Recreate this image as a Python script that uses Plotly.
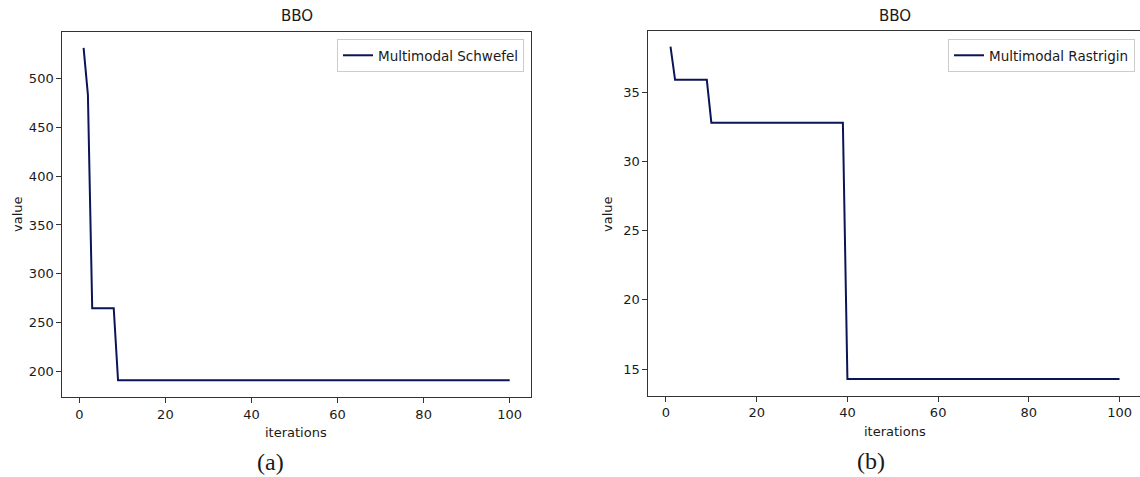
import plotly.graph_objects as go

# ---- data ----
iterations = list(range(1, 101))
schwefel = [531, 483] + [264.8] * 6 + [191.2] * 92
rastrigin = [38.3] + [35.9] * 8 + [32.8] * 30 + [14.28] * 61

x_ticks = [0, 20, 40, 60, 80, 100]
y_ticks_a = [200, 250, 300, 350, 400, 450, 500]
y_ticks_b = [15, 20, 25, 30, 35]

W, H = 1140, 477
LINE = "#0b1556"
FONT = "DejaVu Sans"
TXT = "#1a1a1a"

fig = go.Figure()
fig.add_trace(go.Scatter(x=iterations, y=schwefel, mode="lines",
                         line=dict(color=LINE, width=2),
                         name="Multimodal Schwefel", xaxis="x", yaxis="y",
                         legend="legend"))
fig.add_trace(go.Scatter(x=iterations, y=rastrigin, mode="lines",
                         line=dict(color=LINE, width=2),
                         name="Multimodal Rastrigin", xaxis="x2", yaxis="y2",
                         legend="legend2"))

def px_x(v):
    return v / W

def px_y(v):
    return 1 - v / H

axis_common = dict(showline=True, linecolor="#333333", linewidth=1, mirror=True,
                   ticks="outside", ticklen=5, tickcolor="#333333",
                   showgrid=False, zeroline=False,
                   tickfont=dict(family=FONT, size=13, color=TXT))

fig.update_layout(
    width=W, height=H,
    margin=dict(l=0, r=0, t=0, b=0),
    paper_bgcolor="white", plot_bgcolor="white",
    xaxis=dict(domain=[px_x(62.3), px_x(531)], range=[-3.95, 104.95],
               tickvals=x_ticks, anchor="y", **axis_common),
    yaxis=dict(domain=[px_y(397.3), px_y(31.7)], range=[173.8, 547.6],
               tickvals=y_ticks_a, anchor="x", **axis_common),
    xaxis2=dict(domain=[px_x(648.3), px_x(1139.5)], range=[-3.9, 104.4],
                tickvals=x_ticks, anchor="y2", **axis_common),
    yaxis2=dict(domain=[px_y(395.7), px_y(31)], range=[13.07, 39.43],
                tickvals=y_ticks_b, anchor="x2", **axis_common),
    legend=dict(x=px_x(524), y=px_y(39), xanchor="right", yanchor="top",
                bordercolor="#cccccc", borderwidth=1, bgcolor="white",
                font=dict(family=FONT, size=13.5, color=TXT),
                itemwidth=30, tracegroupgap=0),
    legend2=dict(x=px_x(1135), y=px_y(39), xanchor="right", yanchor="top",
                 bordercolor="#cccccc", borderwidth=1, bgcolor="white",
                 font=dict(family=FONT, size=13.5, color=TXT),
                 itemwidth=30, tracegroupgap=0),
    showlegend=True,
)

def ann(text, x, y, size=13, family=FONT, angle=0):
    fig.add_annotation(text=text, x=px_x(x), y=px_y(y), xref="paper", yref="paper",
                       showarrow=False, xanchor="center", yanchor="middle",
                       textangle=angle,
                       font=dict(family=family, size=size, color=TXT))

ann("BBO", 296.7, 16, size=15)
ann("BBO", 895, 16, size=15)
ann("iterations", 295.7, 432)
ann("iterations", 895, 431)
ann("value", 17, 214, angle=-90)
ann("value", 607, 214, angle=-90)
ann("(a)", 270, 462, size=24, family="Liberation Serif")
ann("(b)", 870.7, 461, size=24, family="Liberation Serif")

fig.write_html("out.html")
